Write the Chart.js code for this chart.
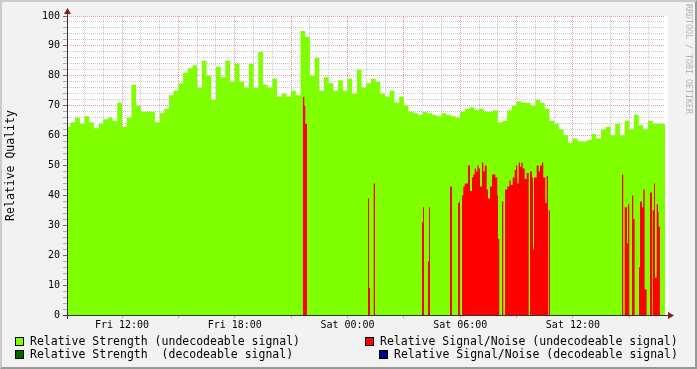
<!DOCTYPE html>
<html lang="en">
<head>
<meta charset="UTF-8">
<title>Relative Quality</title>
<script src="https://cdn.jsdelivr.net/npm/chart.js@4.4.1/dist/chart.umd.min.js"></script>
<style>
  * { margin: 0; padding: 0; box-sizing: border-box; }
  body { width: 697px; height: 369px; overflow: hidden; background: #f2f2f2; font-family: 'DejaVu Sans Mono', monospace; }
  #wrap { position: relative; width: 697px; height: 369px; }
  #chart { position: absolute; left: 0; top: 0; }
  .frame { position: absolute; left: 0; top: 0; width: 697px; height: 369px; border: 2px solid; border-color: #cbcbcb #999 #999 #cbcbcb; pointer-events: none; }
  .mark { position: absolute; left: 684px; top: 4px; writing-mode: vertical-rl; font-size: 8.3px; line-height: 10px; color: #b4b4b4; white-space: pre; }
  .lg { position: absolute; font-size: 11.5px; line-height: 12px; white-space: pre; color: #000; }
  .sw { position: absolute; width: 9px; height: 9px; border: 1px solid #000; }
</style>
</head>
<body>
<div id="wrap">
  <canvas id="chart" width="697" height="369"></canvas>
  <div class="mark">RRDTOOL / TOBI OETIKER</div>
  <div id="legend"></div>
  <div class="frame"></div>
</div>
<script>
  // time is in hours since Fri 00:00
  const X_MIN = 9.07;
  const X_MAX = 40.9;

  // Relative Strength (undecodeable), one value per 15 min from Fri 09:00
  const strengthStart = 9;
  const strengthStep = 0.25;
  const strengthUndecodeable = [
    63, 64.5, 66, 64, 66.5, 64.5, 62.5, 64, 65.5, 66,
    65, 71, 63, 66, 77, 70, 68, 68, 68, 64.5,
    67.5, 69, 73.5, 75, 77.5, 81, 82.5, 83.5, 76, 85,
    80, 72, 83, 79.5, 85, 78, 84, 78, 76, 84,
    76, 88, 77, 76, 79, 73, 74, 73, 75, 73.5,
    95, 93, 80, 86, 75, 79.5, 77.5, 75, 78.5, 75,
    79, 74, 82, 76, 77.5, 79, 78, 74, 73, 75,
    71, 73, 70, 68, 67.5, 67, 68, 67.5, 67, 66.5,
    67.5, 67, 66.5, 66, 68, 69, 69.5, 68.5, 69, 68,
    68, 68.5, 64.5, 65, 68.5, 70, 71.5, 71, 71, 70,
    72, 71, 69, 65, 64, 62, 60, 57.5, 59, 58,
    58, 58.5, 60.5, 59, 62, 63, 60, 64, 60, 65,
    62, 67, 63.5, 62, 65, 64, 64, 64
  ];

  // Relative Signal/Noise (undecodeable): value holds from each time to the next
  const snrTime = [
    21.617, 21.702, 21.755, 21.846,
    25.092, 25.145, 25.198,
    25.395, 25.465,
    27.966, 28.019, 28.072,
    28.285, 28.338, 28.391,
    29.456, 29.562,
    29.882, 29.951, 29.988,
    30.095, 30.164, 30.238, 30.308, 30.414, 30.520, 30.627, 30.696, 30.770, 30.840,
    30.909, 30.983, 31.053, 31.159, 31.228, 31.303, 31.409, 31.478, 31.585, 31.691,
    31.760, 31.867, 31.973, 32.011, 32.080,
    32.224, 32.293,
    32.383, 32.506, 32.612, 32.687, 32.793, 32.899, 32.969, 33.038, 33.112, 33.182,
    33.251, 33.325, 33.432, 33.538, 33.645, 33.714, 33.820, 33.873, 33.927, 34.070,
    34.176, 34.246, 34.352, 34.421, 34.528, 34.602, 34.672, 34.709, 34.778,
    38.610, 38.679,
    38.754, 38.876, 38.929, 38.998,
    39.142, 39.211, 39.286,
    39.515, 39.568, 39.674, 39.744, 39.818, 39.924,
    40.100, 40.206,
    40.244, 40.313, 40.366, 40.457, 40.526, 40.563, 40.632
  ];
  const snrUndecodeable = [
    73, 70, 64, 0,
    39, 9, 0,
    44, 0,
    31, 36, 0,
    18, 36, 0,
    43, 0,
    37.5, 38, 0,
    40, 43, 44, 44, 50, 41.5, 46, 47, 49, 48,
    50, 49, 43, 51, 48, 50, 42, 39, 43, 47,
    47, 46, 40, 25.5, 0,
    38, 0,
    42, 43, 45, 43.5, 46, 48.5, 50, 44, 51, 49.5,
    51, 49, 45.5, 47.5, 0, 48, 46, 22, 46, 50,
    48, 50, 51, 46, 37.5, 46.5, 0, 35, 0,
    47, 0,
    36, 24, 37, 0,
    40, 32, 0,
    16, 38, 36, 42, 8.5, 0,
    41, 0,
    35, 44, 12.5, 37, 34.5, 29.5, 0
  ];

  // nothing was decoded in this period
  const strengthDecodeable = [];
  const snrDecodeable = [];

  const xLabelHours = [12, 18, 24, 30, 36];
  const xLabelText = ['Fri 12:00', 'Fri 18:00', 'Sat 00:00', 'Sat 06:00', 'Sat 12:00'];

  const series = [
    { label: 'Relative Strength (undecodeable signal)', color: '#80ff00' },
    { label: 'Relative Strength  (decodeable signal)', color: '#006400' },
    { label: 'Relative Signal/Noise (undecodeable signal)', color: '#ff0000' },
    { label: 'Relative Signal/Noise (decodeable signal)', color: '#000090' }
  ];

  const GRID = 'rgba(140,140,140,0.45)';
  const MGRID = 'rgba(200,40,40,0.45)';
  const AXIS = '#333333';
  const ARROW = '#8b1a1a';

  // legend, laid out like rrdtool does it
  const legendPos = [
    { box: [15, 337], text: [30, 335] },
    { box: [15, 350], text: [30, 348] },
    { box: [365, 337], text: [380, 335] },
    { box: [379, 350], text: [394, 348] }
  ];
  const legend = document.getElementById('legend');
  series.forEach((s, i) => {
    const p = legendPos[i];
    legend.insertAdjacentHTML('beforeend',
      '<div class="sw" style="left:' + p.box[0] + 'px;top:' + p.box[1] + 'px;background:' + s.color + '"></div>' +
      '<div class="lg" style="left:' + p.text[0] + 'px;top:' + p.text[1] + 'px">' + s.label + '</div>');
  });

  const strengthPts = strengthUndecodeable.map((v, i) => ({ x: strengthStart + i * strengthStep, y: v }));
  strengthPts.push({ x: strengthStart + strengthUndecodeable.length * strengthStep, y: strengthUndecodeable[strengthUndecodeable.length - 1] });
  const snrPts = snrTime.map((t, i) => ({ x: t, y: snrUndecodeable[i] }));

  function area(label, data, color, order) {
    return {
      label, data, order,
      stepped: true, fill: 'origin',
      backgroundColor: color, borderColor: 'rgba(0,0,0,0)', borderWidth: 1,
      pointRadius: 0, pointHoverRadius: 0
    };
  }

  // white canvas, axis lines and arrows
  const rrdFrame = {
    id: 'rrdFrame',
    beforeDraw(chart) {
      const { ctx, chartArea: a } = chart;
      ctx.save();
      ctx.fillStyle = '#ffffff';
      ctx.fillRect(a.left, a.top, a.right - a.left + 3, a.bottom - a.top);
      ctx.restore();
    },
    afterDraw(chart) {
      const { ctx, chartArea: a } = chart;
      const l = Math.round(a.left) + 0.5;
      const b = Math.round(a.bottom) + 0.5;
      ctx.save();
      ctx.strokeStyle = AXIS;
      ctx.lineWidth = 1;
      ctx.beginPath();
      ctx.moveTo(l, a.bottom + 4); ctx.lineTo(l, a.top - 5);
      ctx.moveTo(a.left - 4, b); ctx.lineTo(a.right + 5, b);
      ctx.stroke();
      ctx.fillStyle = ARROW;
      ctx.beginPath();
      ctx.moveTo(l, a.top - 8); ctx.lineTo(l - 3.5, a.top - 2); ctx.lineTo(l + 3.5, a.top - 2);
      ctx.closePath(); ctx.fill();
      ctx.beginPath();
      ctx.moveTo(a.right + 9, b); ctx.lineTo(a.right + 3, b - 3.5); ctx.lineTo(a.right + 3, b + 3.5);
      ctx.closePath(); ctx.fill();
      ctx.restore();
    }
  };

  Chart.defaults.font.family = "'DejaVu Sans Mono', monospace";
  Chart.defaults.font.size = 10;
  Chart.defaults.color = '#000';

  new Chart(document.getElementById('chart'), {
    type: 'line',
    data: {
      datasets: [
        area(series[2].label, snrPts, series[2].color, 0),
        area(series[3].label, snrDecodeable, series[3].color, 1),
        area(series[1].label, strengthDecodeable, series[1].color, 2),
        area(series[0].label, strengthPts, series[0].color, 3)
      ]
    },
    options: {
      responsive: false,
      animation: false,
      events: [],
      layout: { padding: { left: 0, top: 16, right: 32, bottom: 34 } },
      plugins: { legend: { display: false }, tooltip: { enabled: false } },
      scales: {
        x: {
          type: 'linear', min: X_MIN, max: X_MAX, z: 1,
          afterFit: s => { s.height = 20; },
          ticks: {
            stepSize: 1, autoSkip: false, maxRotation: 0, minRotation: 0, padding: 1, includeBounds: false,
            callback: v => {
              const k = xLabelHours.indexOf(v);
              return k >= 0 ? xLabelText[k] : '';
            }
          },
          grid: {
            lineWidth: 1, tickLength: 3,
            color: c => (c.tick && c.tick.value % 3 === 0) ? MGRID : GRID,
            tickColor: c => (c.tick && c.tick.value % 3 === 0) ? MGRID : 'rgba(0,0,0,0)'
          },
          border: { display: false, dash: [1, 1] }
        },
        y: {
          min: 0, max: 100, z: 1,
          afterFit: s => { s.width = 67; },
          ticks: {
            stepSize: 2, autoSkip: false, padding: 3,
            callback: v => v % 10 === 0 ? String(v) : ''
          },
          grid: {
            lineWidth: 1, tickLength: 4,
            color: c => (c.tick && c.tick.value % 10 === 0) ? MGRID : GRID,
            tickColor: c => (c.tick && c.tick.value % 10 === 0) ? 'rgba(90,30,30,0.7)' : 'rgba(120,80,80,0.45)'
          },
          border: { display: false, dash: [1, 1] },
          title: {
            display: true, text: 'Relative Quality', color: '#000',
            font: { size: 11.5 }, padding: { top: 4, bottom: 0 }
          }
        }
      }
    },
    plugins: [rrdFrame]
  });
</script>
</body>
</html>
